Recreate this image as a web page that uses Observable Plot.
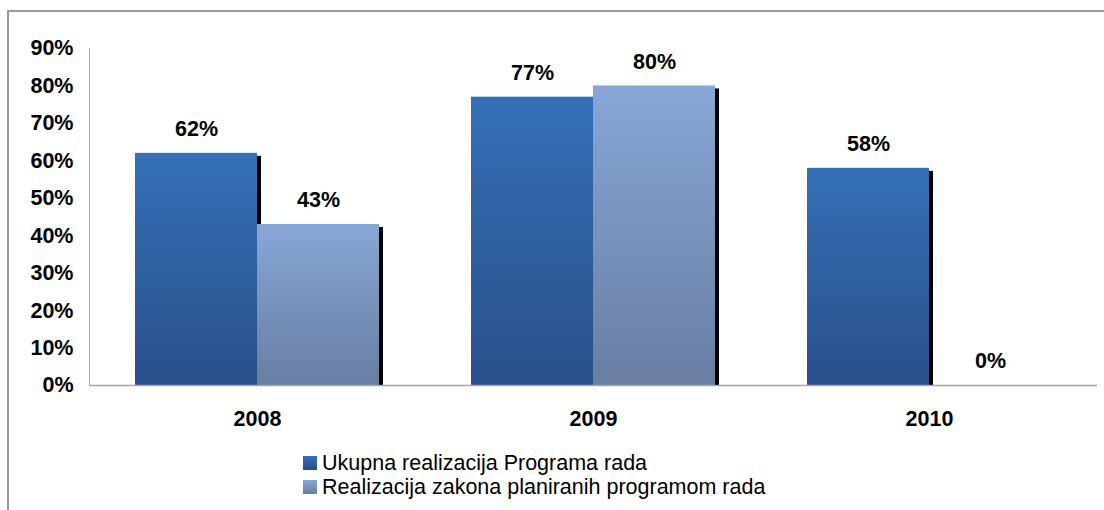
<!DOCTYPE html>
<html><head><meta charset="utf-8">
<script src="https://cdn.jsdelivr.net/npm/d3@7"></script>
<script src="https://cdn.jsdelivr.net/npm/@observablehq/plot@0.6"></script>
<style>
body{margin:0;background:#fff;width:1104px;height:510px;overflow:hidden;position:relative;font-family:"Liberation Sans",Arial,sans-serif;}
#frame{position:absolute;left:7px;top:10px;width:1200px;height:600px;border-left:2px solid #999;border-top:2px solid #999;}
#chart{position:absolute;left:0;top:0;}
#legend{position:absolute;left:303px;top:451px;font-size:21.5px;line-height:24px;color:#000;}
.item{display:flex;align-items:center;white-space:nowrap;}
.sw{width:14px;height:14px;margin-right:5px;flex:none;}
#chart svg g[aria-label="frame"]{color:#a0a0a0;}
</style></head><body>
<div id="frame"></div>
<div id="chart"></div>
<div id="legend"></div>
<script>
const years = ["2008", "2009", "2010"];
const seriesNames = ["Ukupna realizacija Programa rada", "Realizacija zakona planiranih programom rada"];
const ukupnaValues = [62, 77, 58];
const zakoniValues = [43, 80, 0];
const yTicks = [0, 10, 20, 30, 40, 50, 60, 70, 80, 90];
const gradTop = ["#3470b7", "#88a6d6"];
const gradBottom = ["#29508a", "#687ea3"];

const rows = [];
years.forEach((yr, i) => {
  rows.push({year: yr, series: seriesNames[0], value: ukupnaValues[i]});
  rows.push({year: yr, series: seriesNames[1], value: zakoniValues[i]});
});

const plot = Plot.plot({
  width: 1104,
  height: 440,
  marginLeft: 88,
  marginRight: 7,
  marginTop: 48,
  marginBottom: 55,
  style: {fontFamily: "'Liberation Sans', Arial, sans-serif", fontSize: "21.5px", fontWeight: "bold", color: "#000", background: "transparent"},
  fx: {domain: years, padding: 0, tickSize: 0, tickPadding: 25, label: null},
  x: {domain: seriesNames, paddingInner: 0, paddingOuter: 0.366, axis: null},
  y: {domain: [0, 90], ticks: yTicks, tickFormat: d => d + "%", tickSize: 0, tickPadding: 16, label: null, line: true},
  marks: [
    Plot.barY(rows, {fx: "year", x: "series", y: "value", fill: "#000", dx: 4, insetTop: 3}),
    Plot.barY(rows.filter(d => d.series === seriesNames[0]), {fx: "year", x: "series", y: "value", fill: "url(#g0)"}),
    Plot.barY(rows.filter(d => d.series === seriesNames[1]), {fx: "year", x: "series", y: "value", fill: "url(#g1)"}),
    Plot.ruleY([0], {stroke: "#a6a6a6", strokeWidth: 1.5}),
    Plot.text(rows, {fx: "year", x: "series", y: "value", text: d => d.value + "%", dy: -24, fontWeight: "bold", fontSize: 21.5, fill: "#000"})
  ]
});

const defs = d3.select(plot).insert("defs", ":first-child");
[0, 1].forEach(i => {
  const g = defs.append("linearGradient").attr("id", "g" + i).attr("x1", 0).attr("y1", 0).attr("x2", 0).attr("y2", 1);
  g.append("stop").attr("offset", "0%").attr("stop-color", gradTop[i]);
  g.append("stop").attr("offset", "100%").attr("stop-color", gradBottom[i]);
});
document.getElementById("chart").appendChild(plot);

const legend = document.getElementById("legend");
seriesNames.forEach((name, i) => {
  const item = document.createElement("div");
  item.className = "item";
  const sw = document.createElement("span");
  sw.className = "sw";
  sw.style.background = `linear-gradient(${gradTop[i]}, ${gradBottom[i]})`;
  const t = document.createElement("span");
  t.textContent = name;
  item.appendChild(sw);
  item.appendChild(t);
  legend.appendChild(item);
});
</script>
</body></html>
